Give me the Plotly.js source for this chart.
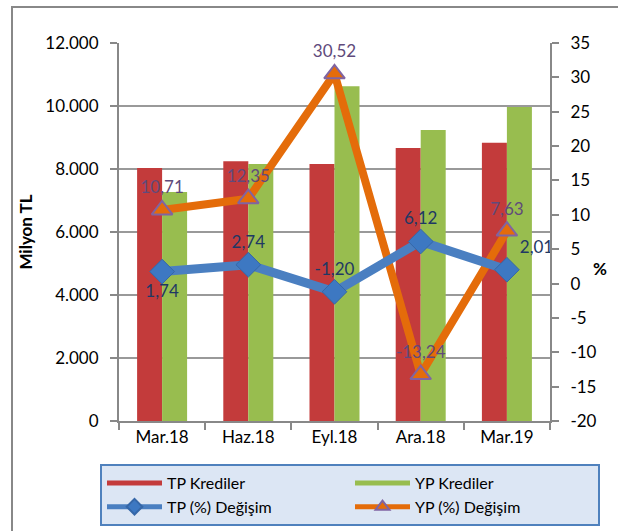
<!DOCTYPE html>
<html><head><meta charset="utf-8">
<script src="https://cdn.plot.ly/plotly-3.0.1.min.js"></script>
<style>html,body{margin:0;padding:0;background:#fff}</style>
</head>
<body>
<div id="chart" style="width:618px;height:531px"></div>
<script>
const categories = ['Mar.18', 'Haz.18', 'Eyl.18', 'Ara.18', 'Mar.19'];
const tpKrediler = [8030, 8250, 8160, 8670, 8830];
const ypKrediler = [7270, 8160, 10630, 9240, 9970];
const tpDegisim = [1.74, 2.74, -1.20, 6.12, 2.01];
const ypDegisim = [10.71, 12.35, 30.52, -13.24, 7.63];
const y2TickVals = [-20, -15, -10, -5, 0, 5, 10, 15, 20, 25, 30, 35];
const y2TickText = ['-20', '-15', '-10', '-5', '0', '5', '10', '15', '20', '25', '30', '35'];
const names = ['TP Krediler', 'YP Krediler', 'TP (%) Değişim', 'YP (%) Değişim'];

const fmt = v => v.toFixed(2).replace('.', ',');
const FONT = 'Lato, "Open Sans", sans-serif';
const RED = '#C33B3B', GREEN = '#98BD4F', BLUE = '#4A7FC1', ORANGE = '#E46C0A', PURPLE = '#8064A2';

const traces = [
  {type: 'bar', x: categories, y: tpKrediler, name: names[0], marker: {color: RED}, showlegend: false, yaxis: 'y'},
  {type: 'bar', x: categories, y: ypKrediler, name: names[1], marker: {color: GREEN}, showlegend: false, yaxis: 'y'},
  {type: 'scatter', mode: 'lines', x: [categories[0]], y: [null], name: names[0], line: {color: RED, width: 12}, legendrank: 1, hoverinfo: 'skip'},
  {type: 'scatter', mode: 'lines', x: [categories[0]], y: [null], name: names[1], line: {color: GREEN, width: 12}, legendrank: 2, hoverinfo: 'skip'},
  {type: 'scatter', mode: 'lines+markers+text', x: categories, y: ypDegisim, name: names[3], yaxis: 'y2',
   line: {color: ORANGE, width: 8}, marker: {symbol: 'triangle-up', size: 18, color: ORANGE, line: {color: PURPLE, width: 2}},
   text: ypDegisim.map(fmt), textposition: ['top center', 'top center', 'top center', 'top center', 'top center'],
   textfont: {family: FONT, size: 17, color: '#604A7B'}, legendrank: 4},
  {type: 'scatter', mode: 'lines+markers+text', x: categories, y: tpDegisim, name: names[2], yaxis: 'y2',
   line: {color: BLUE, width: 9}, marker: {symbol: 'diamond', size: 19, color: '#3D78C2', line: {color: '#3567A8', width: 1}},
   text: tpDegisim.map(fmt), textposition: ['bottom center', 'top center', 'top center', 'top center', 'top right'],
   textfont: {family: FONT, size: 17, color: '#1F3864'}, legendrank: 3}
];

const layout = {
  width: 618, height: 531,
  margin: {l: 119, r: 68, t: 43, b: 110, autoexpand: false},
  paper_bgcolor: '#fff', plot_bgcolor: '#fff',
  font: {family: FONT, size: 17, color: '#000'},
  separators: ',.',
  barmode: 'group', bargap: 0.42, bargroupgap: 0,
  showlegend: true,
  xaxis: {type: 'category', showline: true, linecolor: '#888', linewidth: 2, ticks: 'outside', tickson: 'boundaries',
          ticklen: 7, tickcolor: '#888', tickwidth: 2, showgrid: false, tickfont: {size: 17}, automargin: false},
  yaxis: {range: [0, 12000], dtick: 2000, tickformat: ',.0f', showline: true, linecolor: '#888', linewidth: 2,
          ticks: 'outside', ticklen: 7, tickcolor: '#888', tickwidth: 2, showgrid: true, gridcolor: '#999', gridwidth: 1.5,
          zeroline: false, tickfont: {size: 17}, ticklabelstandoff: 8, automargin: false,
          title: {text: '<b>Milyon TL</b>', font: {size: 17}, standoff: 8}},
  yaxis2: {overlaying: 'y', side: 'right', range: [-20, 35], tickvals: y2TickVals, ticktext: y2TickText,
           showline: true, linecolor: '#888', linewidth: 2, ticks: 'outside', ticklen: 7, tickcolor: '#888', tickwidth: 2,
           showgrid: false, zeroline: false, tickfont: {size: 17}, ticklabelstandoff: 8, automargin: false},
  legend: {orientation: 'h', x: (100 - 119) / 431, xanchor: 'left', y: -(464 - 421) / 378, yanchor: 'top',
           bgcolor: '#DCE6F4', bordercolor: '#4F81BD', borderwidth: 2, font: {size: 16}, itemsizing: 'constant',
           entrywidth: 178, entrywidthmode: 'pixels', itemwidth: 55, tracegroupgap: 0},
  annotations: [{xref: 'paper', yref: 'paper', x: (600 - 119) / 431, y: (421 - 268) / 378, text: '<b>%</b>',
                 showarrow: false, font: {size: 17}, xanchor: 'center', yanchor: 'middle'}],
  shapes: [{type: 'rect', xref: 'paper', yref: 'paper', x0: (12 - 119) / 431, x1: (640 - 119) / 431,
            y0: -(600 - 421) / 378, y1: (421 - 7) / 378, line: {color: '#888', width: 2}, fillcolor: 'rgba(0,0,0,0)', layer: 'below'}]
};

Plotly.newPlot('chart', traces, layout, {displayModeBar: false, staticPlot: true});
</script>
</body></html>
